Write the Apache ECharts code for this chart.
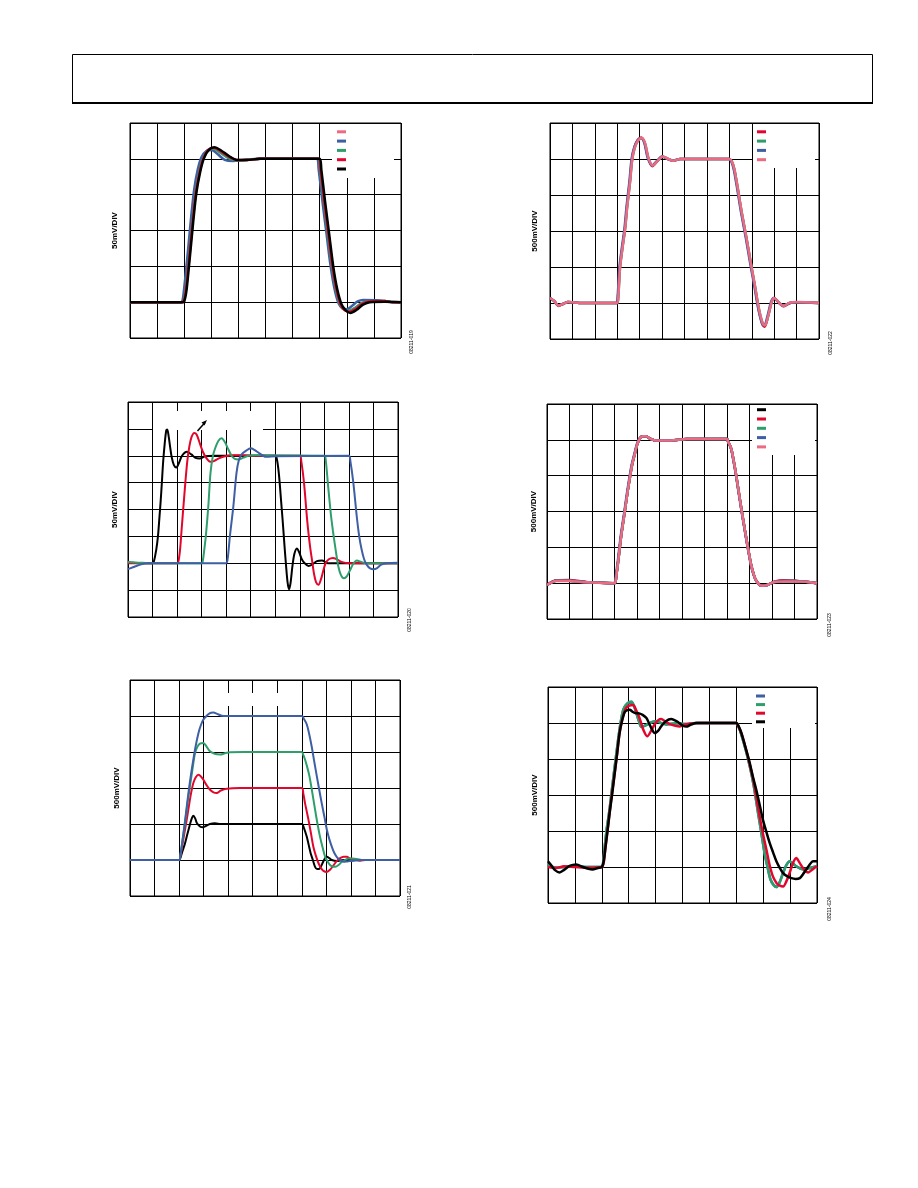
<!DOCTYPE html>
<html><head><meta charset="utf-8">
<script src="https://cdn.jsdelivr.net/npm/echarts@6/dist/echarts.min.js"></script>
<style>html,body{margin:0;padding:0;background:#fff}#c{width:918px;height:1188px}</style>
</head><body><div id="c"></div>
<script>
// ---------- colours ----------
const C = {pink:'#EC6A82', blue:'#3E5FA3', green:'#2E9E6B', red:'#E2062C', black:'#000000'};

// ---------- Plot 1 (08211-019), 50mV/DIV, 10 x-div ----------
const p1Pink  = [[0,0],[1.9,0],[1.96,0.03],[2.04,0.35],[2.11,0.85],[2.2,1.55],[2.3,2.35],[2.41,3.1],[2.54,3.65],[2.68,4.02],[2.86,4.24],[3.07,4.3],[3.3,4.2],[3.6,4.04],[3.9,3.96],[4.3,3.97],[4.8,4.0],[6.94,4.0],[7.0,3.72],[7.14,2.82],[7.29,1.92],[7.44,1.02],[7.59,0.36],[7.74,-0.05],[7.9,-0.21],[8.07,-0.25],[8.3,-0.17],[8.55,-0.03],[8.8,0.03],[9.4,0.03],[9.7,0.0],[10,0]];
const p1Blue  = [[0,0],[1.88,0],[1.94,0.05],[2.0,0.4],[2.07,0.9],[2.16,1.6],[2.26,2.4],[2.37,3.15],[2.5,3.7],[2.64,4.05],[2.82,4.22],[3.02,4.25],[3.25,4.12],[3.5,3.97],[3.8,3.94],[4.2,3.97],[4.8,4.0],[6.9,4.0],[6.96,3.72],[7.1,2.82],[7.25,1.92],[7.4,1.02],[7.55,0.36],[7.7,-0.04],[7.85,-0.18],[8.0,-0.2],[8.2,-0.1],[8.4,0.02],[8.6,0.06],[9.2,0.05],[9.5,0.01],[10,0]];
const p1Green = [[0,0],[1.9,0],[1.97,0.03],[2.05,0.33],[2.12,0.82],[2.21,1.52],[2.31,2.32],[2.42,3.07],[2.55,3.62],[2.69,4.0],[2.87,4.23],[3.09,4.28],[3.32,4.18],[3.62,4.03],[3.92,3.96],[4.3,3.97],[4.8,4.0],[6.95,4.0],[7.01,3.71],[7.15,2.81],[7.3,1.91],[7.45,1.01],[7.6,0.35],[7.75,-0.06],[7.9,-0.2],[8.08,-0.24],[8.3,-0.16],[8.55,-0.03],[8.8,0.02],[9.4,0.03],[9.7,0.0],[10,0]];
const p1Red   = [[0,0],[1.91,0],[1.98,0.02],[2.06,0.31],[2.13,0.8],[2.22,1.5],[2.32,2.3],[2.43,3.05],[2.56,3.6],[2.7,4.0],[2.88,4.24],[3.1,4.31],[3.33,4.22],[3.63,4.07],[3.93,3.97],[4.3,3.97],[4.8,4.0],[6.97,4.0],[7.03,3.7],[7.17,2.8],[7.32,1.9],[7.47,1.0],[7.62,0.35],[7.77,-0.06],[7.92,-0.22],[8.1,-0.27],[8.32,-0.19],[8.57,-0.05],[8.82,0.02],[9.4,0.03],[9.7,0.0],[10,0]];
const p1Black = [[0,0],[1.92,0],[2.0,0.02],[2.08,0.3],[2.15,0.8],[2.24,1.5],[2.34,2.3],[2.45,3.05],[2.58,3.6],[2.72,4.0],[2.9,4.24],[3.12,4.32],[3.35,4.24],[3.65,4.08],[3.95,3.97],[4.3,3.97],[4.8,4.0],[7.0,4.0],[7.06,3.7],[7.2,2.8],[7.35,1.9],[7.5,1.0],[7.65,0.35],[7.8,-0.05],[7.95,-0.22],[8.13,-0.3],[8.35,-0.22],[8.6,-0.07],[8.85,0.0],[9.4,0.01],[10,0]];

// ---------- Plot 2 (08211-022), 500mV/DIV, 12 x-div ----------
const p2Red   = [[0,0.14],[0.2,0.05],[0.37,-0.08],[0.6,-0.02],[0.8,0.03],[1.0,0.02],[1.3,0],[2.98,0],[3.04,0.22],[3.11,0.95],[3.22,1.51],[3.34,2.06],[3.44,2.71],[3.56,3.36],[3.66,4.0],[3.78,4.35],[3.93,4.54],[4.07,4.6],[4.22,4.45],[4.37,4.04],[4.56,3.8],[4.77,3.93],[5.01,4.07],[5.26,4.0],[5.5,3.95],[5.8,4.0],[8.0,4.0],[8.17,3.82],[8.32,3.36],[8.54,2.53],[8.76,1.79],[8.94,1.14],[9.13,0.49],[9.31,-0.18],[9.48,-0.6],[9.58,-0.66],[9.73,-0.36],[9.88,0.02],[10.0,0.14],[10.19,0.03],[10.41,-0.09],[10.7,0.0],[11.0,0.02],[12,0]];
const p2Green = [[0,0.13],[0.2,0.04],[0.37,-0.07],[0.6,-0.02],[0.8,0.03],[1.0,0.02],[1.3,0],[2.99,0],[3.05,0.21],[3.12,0.95],[3.23,1.51],[3.35,2.06],[3.45,2.71],[3.57,3.36],[3.67,4.0],[3.79,4.33],[3.94,4.52],[4.09,4.57],[4.24,4.43],[4.39,4.03],[4.58,3.82],[4.79,3.94],[5.03,4.06],[5.28,4.0],[5.5,3.96],[5.8,4.0],[8.0,4.0],[8.18,3.82],[8.33,3.36],[8.55,2.53],[8.77,1.79],[8.95,1.14],[9.14,0.49],[9.32,-0.16],[9.49,-0.57],[9.59,-0.62],[9.74,-0.34],[9.89,0.03],[10.0,0.13],[10.19,0.03],[10.41,-0.08],[10.7,0.0],[11.0,0.02],[12,0]];
const p2Blue  = [[0,0.14],[0.2,0.05],[0.37,-0.07],[0.6,-0.02],[0.8,0.03],[1.0,0.02],[1.3,0],[2.96,0],[3.02,0.21],[3.09,0.95],[3.2,1.51],[3.32,2.06],[3.42,2.71],[3.54,3.36],[3.64,4.0],[3.76,4.33],[3.91,4.52],[4.06,4.58],[4.21,4.44],[4.36,4.03],[4.55,3.82],[4.76,3.94],[5.0,4.07],[5.25,4.0],[5.5,3.95],[5.8,4.0],[7.98,4.0],[8.15,3.82],[8.3,3.36],[8.52,2.53],[8.74,1.79],[8.92,1.14],[9.11,0.49],[9.29,-0.16],[9.46,-0.57],[9.56,-0.62],[9.71,-0.34],[9.86,0.03],[9.98,0.14],[10.17,0.03],[10.39,-0.08],[10.7,0.0],[11.0,0.02],[12,0]];
const p2Pink  = [[0,0.14],[0.2,0.05],[0.37,-0.07],[0.6,-0.02],[0.8,0.03],[1.0,0.02],[1.3,0],[3.0,0],[3.05,0.21],[3.12,0.95],[3.23,1.51],[3.35,2.06],[3.45,2.71],[3.57,3.36],[3.67,4.0],[3.79,4.33],[3.94,4.52],[4.09,4.58],[4.24,4.44],[4.39,4.03],[4.58,3.82],[4.79,3.94],[5.03,4.07],[5.28,4.0],[5.5,3.95],[5.8,4.0],[8.0,4.0],[8.18,3.82],[8.33,3.36],[8.55,2.53],[8.77,1.79],[8.95,1.14],[9.14,0.49],[9.32,-0.16],[9.49,-0.57],[9.59,-0.62],[9.74,-0.34],[9.89,0.03],[10.0,0.14],[10.19,0.03],[10.41,-0.08],[10.7,0.01],[11.0,0.03],[12,0]];

// ---------- Plot 3 (08211-020), 50mV/DIV, 11 x-div ----------
const p3Black = [[0,0.03],[0.5,0.0],[1.0,0.0],[1.05,0.05],[1.15,0.5],[1.22,1.0],[1.28,1.7],[1.33,2.3],[1.38,3.0],[1.43,3.75],[1.5,4.5],[1.56,4.95],[1.6,4.98],[1.66,4.7],[1.72,4.3],[1.78,3.95],[1.87,3.65],[1.97,3.56],[2.07,3.72],[2.2,4.0],[2.4,4.15],[2.58,4.05],[2.75,3.92],[2.92,3.9],[3.15,3.98],[3.5,4.0],[6.0,4.0],[6.07,3.85],[6.15,3.3],[6.23,2.4],[6.3,1.6],[6.38,0.6],[6.44,-0.1],[6.5,-0.7],[6.56,-0.97],[6.62,-0.75],[6.7,-0.1],[6.78,0.35],[6.88,0.55],[6.97,0.42],[7.08,0.15],[7.2,0.0],[7.35,-0.1],[7.5,-0.05],[7.7,0.08],[7.9,0.1],[8.15,0.0],[8.6,0.0],[11,0]];
const p3Red   = [[0,0],[2.0,0],[2.05,0.05],[2.12,0.5],[2.18,1.2],[2.29,2.48],[2.41,3.75],[2.5,4.35],[2.59,4.7],[2.7,4.85],[2.8,4.78],[2.93,4.45],[3.05,4.15],[3.2,3.9],[3.35,3.78],[3.5,3.8],[3.7,3.9],[3.95,3.98],[4.3,4.02],[4.7,4.02],[5.2,4.0],[7.0,4.0],[7.06,3.8],[7.17,3.0],[7.31,1.5],[7.42,0.6],[7.5,0.1],[7.58,-0.4],[7.66,-0.7],[7.76,-0.8],[7.86,-0.6],[7.95,-0.3],[8.05,0.0],[8.18,0.15],[8.35,0.2],[8.5,0.15],[8.7,0.05],[9.0,0.0],[11,0]];
const p3Green = [[0,0.05],[0.5,0.02],[1.0,0.0],[3.0,0],[3.05,0.1],[3.12,0.6],[3.17,1.0],[3.27,2.1],[3.36,3.35],[3.45,3.95],[3.54,4.25],[3.68,4.55],[3.81,4.65],[3.95,4.5],[4.08,4.25],[4.22,4.0],[4.35,3.88],[4.5,3.86],[4.7,3.93],[4.9,4.0],[5.2,4.02],[8.0,4.0],[8.06,3.8],[8.14,3.0],[8.26,1.86],[8.35,1.2],[8.44,0.62],[8.57,-0.12],[8.68,-0.45],[8.8,-0.56],[8.92,-0.48],[9.05,-0.25],[9.18,-0.02],[9.32,0.1],[9.5,0.05],[9.7,0.0],[11,0]];
const p3Blue  = [[0,-0.22],[0.2,-0.15],[0.5,-0.05],[0.8,0.0],[4.0,0],[4.05,0.1],[4.1,0.5],[4.15,1.0],[4.29,2.1],[4.42,3.35],[4.52,3.85],[4.63,4.05],[4.8,4.18],[5.0,4.28],[5.15,4.22],[5.31,4.12],[5.5,4.0],[5.65,3.96],[6.0,3.98],[9.0,4.0],[9.06,3.8],[9.18,3.0],[9.32,1.74],[9.42,1.0],[9.52,0.5],[9.62,0.15],[9.73,-0.06],[9.85,-0.18],[10.0,-0.22],[10.15,-0.18],[10.3,-0.06],[10.54,0.0],[11,0.02]];

// ---------- Plot 4 (08211-023), 500mV/DIV, 12 x-div ----------
const p4Black = [[0,-0.05],[0.2,0.02],[0.4,0.07],[1.0,0.07],[1.5,0.04],[2.0,0.02],[3.0,0],[3.05,0.05],[3.1,0.3],[3.16,0.6],[3.3,1.34],[3.45,1.98],[3.57,2.5],[3.67,2.9],[3.78,3.3],[3.9,3.6],[4.0,3.85],[4.12,4.03],[4.25,4.1],[4.4,4.1],[4.6,4.03],[4.85,3.98],[5.5,3.98],[6.2,4.02],[8.0,4.02],[8.05,3.95],[8.19,3.75],[8.3,3.4],[8.41,3.0],[8.52,2.55],[8.64,2.07],[8.75,1.65],[8.86,1.24],[8.97,0.85],[9.08,0.49],[9.2,0.22],[9.3,0.07],[9.45,-0.05],[9.6,-0.07],[9.75,-0.06],[9.9,-0.02],[10.1,0.03],[10.5,0.06],[11.0,0.06],[11.5,0.04],[12,0.0]];
const p4Red   = [[0,-0.04],[0.2,0.03],[0.4,0.08],[1.0,0.09],[1.5,0.05],[2.0,0.02],[3.0,0],[3.05,0.05],[3.1,0.3],[3.16,0.59],[3.3,1.33],[3.45,1.97],[3.57,2.5],[3.67,2.9],[3.78,3.3],[3.9,3.6],[4.0,3.85],[4.12,4.03],[4.25,4.1],[4.4,4.1],[4.6,4.03],[4.85,3.98],[5.5,3.98],[6.2,4.02],[8.0,4.02],[8.05,3.95],[8.19,3.75],[8.3,3.4],[8.41,3.0],[8.52,2.55],[8.64,2.07],[8.75,1.65],[8.86,1.24],[8.97,0.85],[9.08,0.49],[9.2,0.22],[9.3,0.07],[9.45,-0.05],[9.6,-0.07],[9.75,-0.06],[9.9,-0.02],[10.1,0.04],[10.5,0.08],[11.0,0.07],[11.5,0.04],[12,0.0]];
const p4Green = [[0,-0.05],[0.2,0.02],[0.4,0.07],[1.0,0.07],[1.5,0.04],[2.0,0.02],[3.0,0],[3.05,0.05],[3.1,0.3],[3.16,0.59],[3.3,1.33],[3.45,1.97],[3.57,2.5],[3.67,2.9],[3.78,3.3],[3.9,3.6],[4.0,3.85],[4.12,4.03],[4.25,4.1],[4.4,4.1],[4.6,4.03],[4.85,3.98],[5.5,3.98],[6.2,4.02],[8.0,4.03],[8.05,3.96],[8.19,3.75],[8.3,3.4],[8.41,3.0],[8.52,2.55],[8.64,2.07],[8.75,1.65],[8.86,1.24],[8.97,0.85],[9.08,0.49],[9.2,0.22],[9.3,0.07],[9.45,-0.05],[9.6,-0.07],[9.75,-0.06],[9.9,-0.02],[10.1,0.03],[10.5,0.06],[11.0,0.06],[11.5,0.04],[12,0.0]];
const p4Blue  = [[0,-0.05],[0.2,0.02],[0.4,0.07],[1.0,0.07],[1.5,0.04],[2.0,0.02],[2.98,0],[3.03,0.05],[3.08,0.3],[3.14,0.59],[3.28,1.33],[3.43,1.97],[3.55,2.5],[3.65,2.9],[3.76,3.3],[3.88,3.6],[3.98,3.85],[4.1,4.03],[4.23,4.1],[4.38,4.1],[4.58,4.03],[4.83,3.98],[5.5,3.98],[6.2,4.02],[8.0,4.02],[8.04,3.95],[8.18,3.75],[8.29,3.4],[8.4,3.0],[8.51,2.55],[8.63,2.07],[8.74,1.65],[8.85,1.24],[8.96,0.85],[9.07,0.49],[9.19,0.22],[9.29,0.07],[9.44,-0.05],[9.6,-0.07],[9.75,-0.06],[9.9,-0.02],[10.1,0.03],[10.5,0.06],[11.0,0.06],[11.5,0.04],[12,0.0]];
const p4Pink  = [[0,-0.05],[0.2,0.02],[0.4,0.06],[1.0,0.06],[1.5,0.03],[2.0,0.02],[3.0,0],[3.05,0.05],[3.1,0.3],[3.16,0.59],[3.3,1.33],[3.45,1.97],[3.57,2.5],[3.67,2.9],[3.78,3.3],[3.9,3.6],[4.0,3.85],[4.12,4.03],[4.25,4.1],[4.4,4.1],[4.6,4.03],[4.85,3.98],[5.5,3.98],[6.2,4.02],[8.0,4.02],[8.05,3.95],[8.19,3.75],[8.3,3.4],[8.41,3.0],[8.52,2.55],[8.64,2.07],[8.75,1.65],[8.86,1.24],[8.97,0.85],[9.08,0.49],[9.2,0.22],[9.3,0.07],[9.45,-0.05],[9.6,-0.07],[9.75,-0.06],[9.9,-0.02],[10.1,0.03],[10.5,0.05],[11.0,0.05],[11.5,0.04],[12,0.0]];

// ---------- Plot 5 (08211-021), 500mV/DIV, 11 x-div ----------
const p5Black = [[0,0],[2.0,0],[2.05,0.05],[2.14,0.25],[2.24,0.46],[2.33,0.7],[2.42,0.93],[2.5,1.12],[2.58,1.23],[2.66,1.15],[2.72,1.03],[2.79,0.97],[2.88,0.92],[2.96,0.91],[3.1,0.95],[3.26,1.0],[3.46,1.02],[3.7,1.0],[7.0,1.0],[7.08,0.9],[7.2,0.65],[7.28,0.42],[7.36,0.19],[7.45,0.0],[7.54,-0.19],[7.62,-0.25],[7.7,-0.25],[7.78,-0.18],[7.87,-0.05],[7.95,0.05],[8.02,0.09],[8.12,0.05],[8.22,0.0],[8.42,-0.03],[8.7,0.0],[11,0]];
const p5Red   = [[0,0],[2.0,0],[2.05,0.1],[2.14,0.45],[2.24,0.84],[2.33,1.2],[2.42,1.59],[2.5,1.9],[2.58,2.14],[2.68,2.3],[2.79,2.37],[2.89,2.32],[2.99,2.23],[3.12,2.08],[3.26,1.95],[3.4,1.88],[3.53,1.86],[3.7,1.93],[3.94,1.98],[4.48,2.0],[7.0,2.0],[7.06,1.85],[7.13,1.58],[7.2,1.35],[7.27,1.12],[7.37,0.75],[7.47,0.37],[7.58,0.1],[7.68,-0.09],[7.78,-0.22],[7.88,-0.3],[8.02,-0.33],[8.15,-0.27],[8.29,-0.15],[8.42,-0.03],[8.56,0.05],[8.7,0.09],[8.83,0.09],[8.97,0.04],[9.1,0.02],[9.38,-0.02],[9.6,0.0],[11,0]];
const p5Green = [[0,0],[2.0,0],[2.05,0.12],[2.14,0.55],[2.24,1.02],[2.33,1.5],[2.42,1.95],[2.53,2.45],[2.65,2.97],[2.75,3.15],[2.85,3.23],[2.99,3.25],[3.12,3.15],[3.26,3.02],[3.45,2.95],[3.67,2.93],[3.9,2.97],[4.08,2.99],[4.62,3.0],[7.0,3.0],[7.06,2.92],[7.13,2.79],[7.22,2.58],[7.31,2.33],[7.42,1.9],[7.54,1.4],[7.64,1.0],[7.74,0.65],[7.85,0.34],[7.95,0.09],[8.05,-0.04],[8.15,-0.14],[8.25,-0.18],[8.36,-0.19],[8.5,-0.14],[8.63,-0.05],[8.76,0.0],[8.9,0.04],[9.05,0.04],[9.24,0.03],[9.5,0.0],[11,0]];
const p5Blue  = [[0,0],[2.0,0],[2.05,0.12],[2.17,0.7],[2.28,1.3],[2.38,1.86],[2.48,2.35],[2.58,2.79],[2.68,3.18],[2.79,3.53],[2.89,3.75],[2.99,3.9],[3.09,3.98],[3.19,4.05],[3.3,4.09],[3.4,4.1],[3.55,4.06],[3.74,4.01],[4.21,4.0],[7.0,4.0],[7.1,3.9],[7.2,3.77],[7.3,3.5],[7.4,3.16],[7.5,2.76],[7.61,2.33],[7.71,1.95],[7.81,1.58],[7.92,1.2],[8.02,0.84],[8.12,0.58],[8.22,0.37],[8.32,0.2],[8.42,0.09],[8.55,0.0],[8.7,-0.05],[8.85,-0.04],[9.1,-0.02],[9.4,0.0],[11,0]];

// ---------- Plot 6 (08211-024), 500mV/DIV, 10 x-div ----------
const p6Blue  = [[0,0.06],[0.3,-0.02],[0.6,0.0],[1.0,0.02],[1.5,0.0],[2.0,0.0],[2.05,0.12],[2.11,0.57],[2.19,1.1],[2.27,1.5],[2.36,2.05],[2.45,2.61],[2.55,3.2],[2.64,3.72],[2.72,4.1],[2.81,4.38],[2.95,4.53],[3.1,4.57],[3.2,4.46],[3.28,4.28],[3.38,4.05],[3.47,3.9],[3.6,3.93],[3.72,3.97],[3.88,4.03],[4.03,4.05],[4.2,4.0],[4.4,3.96],[4.6,3.98],[4.77,3.99],[5.14,3.97],[5.5,4.0],[7.0,4.0],[7.08,3.9],[7.19,3.67],[7.35,3.25],[7.5,2.8],[7.65,2.25],[7.81,1.5],[7.93,0.95],[8.05,0.39],[8.16,0.0],[8.27,-0.34],[8.38,-0.49],[8.49,-0.55],[8.6,-0.44],[8.74,-0.16],[8.86,0.05],[8.98,0.15],[9.1,0.1],[9.23,0.02],[9.48,-0.06],[9.73,-0.03],[10,0.02]];
const p6Green = [[0,0.05],[0.3,-0.02],[0.6,0.0],[1.0,0.02],[1.5,0.0],[2.0,0.0],[2.05,0.12],[2.11,0.57],[2.19,1.1],[2.27,1.5],[2.36,2.05],[2.45,2.61],[2.55,3.2],[2.64,3.72],[2.72,4.1],[2.81,4.4],[2.95,4.55],[3.1,4.6],[3.2,4.48],[3.28,4.3],[3.38,4.05],[3.47,3.89],[3.6,3.92],[3.72,3.97],[3.88,4.03],[4.03,4.05],[4.2,4.0],[4.4,3.96],[4.6,3.98],[4.77,3.99],[5.14,3.97],[5.5,4.0],[7.0,4.0],[7.08,3.9],[7.19,3.67],[7.35,3.25],[7.5,2.8],[7.65,2.25],[7.81,1.5],[7.93,0.95],[8.05,0.39],[8.16,0.0],[8.27,-0.35],[8.38,-0.5],[8.49,-0.56],[8.6,-0.45],[8.74,-0.17],[8.86,0.05],[8.98,0.16],[9.1,0.1],[9.23,0.02],[9.48,-0.07],[9.73,-0.03],[10,0.02]];
const p6Red   = [[0,0.0],[0.3,-0.03],[0.6,0.02],[1.0,0.0],[1.5,-0.02],[2.0,0.0],[2.07,0.12],[2.14,0.57],[2.22,1.05],[2.29,1.5],[2.38,2.05],[2.48,2.61],[2.57,3.15],[2.66,3.72],[2.76,4.1],[2.89,4.4],[3.02,4.48],[3.16,4.5],[3.28,4.35],[3.41,4.12],[3.55,3.8],[3.69,3.63],[3.83,3.78],[3.97,3.97],[4.1,4.08],[4.21,4.11],[4.35,4.05],[4.52,3.97],[4.7,3.93],[4.89,3.9],[5.05,3.95],[5.27,3.98],[5.6,4.0],[7.0,4.0],[7.08,3.9],[7.19,3.72],[7.35,3.3],[7.5,2.85],[7.65,2.35],[7.81,1.65],[7.97,1.0],[8.12,0.48],[8.24,0.05],[8.36,-0.26],[8.5,-0.45],[8.62,-0.52],[8.74,-0.54],[8.86,-0.4],[8.98,-0.17],[9.1,0.1],[9.23,0.25],[9.35,0.12],[9.48,-0.03],[9.58,-0.12],[9.67,-0.15],[9.78,-0.1],[9.9,-0.03],[10,0.02]];
const p6Black = [[0,0.16],[0.12,0.05],[0.25,-0.08],[0.43,-0.15],[0.6,-0.08],[0.8,0.03],[1.05,0.07],[1.3,0.0],[1.5,-0.05],[1.65,-0.07],[1.85,-0.03],[2.0,0.0],[2.07,0.15],[2.14,0.57],[2.22,1.05],[2.29,1.5],[2.39,2.05],[2.48,2.61],[2.57,3.15],[2.66,3.72],[2.75,4.05],[2.85,4.3],[2.95,4.36],[3.04,4.37],[3.13,4.32],[3.22,4.28],[3.32,4.27],[3.41,4.26],[3.53,4.22],[3.66,4.14],[3.75,4.0],[3.84,3.86],[3.97,3.72],[4.09,3.78],[4.21,3.91],[4.38,4.05],[4.58,4.11],[4.7,4.08],[4.83,4.03],[5.0,3.93],[5.14,3.9],[5.3,3.95],[5.51,4.0],[7.0,4.0],[7.08,3.92],[7.19,3.72],[7.35,3.3],[7.5,2.89],[7.62,2.5],[7.74,2.15],[7.87,1.72],[7.99,1.31],[8.12,0.97],[8.24,0.67],[8.37,0.4],[8.49,0.16],[8.62,-0.03],[8.74,-0.17],[8.9,-0.26],[9.05,-0.31],[9.2,-0.33],[9.36,-0.31],[9.48,-0.2],[9.6,-0.07],[9.73,0.07],[9.85,0.16],[10,0.16]];

// ---------- labels ----------
const yLabels = ['50mV/DIV','500mV/DIV','50mV/DIV','500mV/DIV','500mV/DIV','500mV/DIV'];
const figIds  = ['08211-019','08211-022','08211-020','08211-023','08211-021','08211-024'];

// ---------- layout ----------
const plots = [
  {grid:[130,123,271,215], xDiv:10, yMin:-1, yMax:5, gap:11, lw:2.5, id:[411.5,342],
   series:[['Fig19 A',p1Pink,C.pink],['Fig19 B',p1Blue,C.blue],['Fig19 C',p1Green,C.green],['Fig19 D',p1Red,C.red],['Fig19 E',p1Black,C.black]],
   legend:[337,130.3,6.3], white:[[332,124,62,54]]},
  {grid:[550,123,269,216], xDiv:12, yMin:-1, yMax:5, gap:11, lw:2.5, id:[830.5,343],
   series:[['Fig22 A',p2Red,C.red],['Fig22 B',p2Green,C.green],['Fig22 C',p2Blue,C.blue],['Fig22 D',p2Pink,C.pink]],
   legend:[757,130.3,6.3], white:[[753,124,62,44]]},
  {grid:[128,402,270,215], xDiv:11, yMin:-2, yMax:6, gap:9, lw:2, id:[409.5,620],
   series:[['Fig20 A',p3Black,C.black],['Fig20 B',p3Red,C.red],['Fig20 C',p3Green,C.green],['Fig20 D',p3Blue,C.blue]],
   legend:null, white:[[153,411,110,19]], arrow:true},
  {grid:[547,404,270,215], xDiv:12, yMin:-1, yMax:5, gap:9, lw:2.5, id:[829.5,625],
   series:[['Fig23 A',p4Black,C.black],['Fig23 B',p4Red,C.red],['Fig23 C',p4Green,C.green],['Fig23 D',p4Blue,C.blue],['Fig23 E',p4Pink,C.pink]],
   legend:[757,408.2,6.3], white:[[752,405,63,50]]},
  {grid:[130,680,270,216], xDiv:11, yMin:-1, yMax:5, gap:9, lw:2, id:[409.5,897],
   series:[['Fig21 A',p5Black,C.black],['Fig21 B',p5Red,C.red],['Fig21 C',p5Green,C.green],['Fig21 D',p5Blue,C.blue]],
   legend:null, white:[[215,693,75,13]]},
  {grid:[548,687,269,216], xDiv:10, yMin:-1, yMax:5, gap:9, lw:2.5, id:[829.5,909],
   series:[['Fig24 A',p6Blue,C.blue],['Fig24 B',p6Green,C.green],['Fig24 C',p6Red,C.red],['Fig24 D',p6Black,C.black]],
   legend:[756,694.5,5.6], white:[[752,688,63,40]]}
];

const option = {animation:false, backgroundColor:'#fff', grid:[], xAxis:[], yAxis:[], series:[], legend:[], graphic:[]};
plots.forEach((p,i)=>{
  option.grid.push({left:p.grid[0], top:p.grid[1], width:p.grid[2], height:p.grid[3], show:true, borderColor:'#000', borderWidth:1, containLabel:false});
  option.xAxis.push({gridIndex:i, type:'value', min:0, max:p.xDiv, interval:1,
    axisLine:{show:false}, axisTick:{show:false}, axisLabel:{show:false},
    splitLine:{show:true, lineStyle:{color:'#000', width:1}}});
  option.yAxis.push({gridIndex:i, type:'value', min:p.yMin, max:p.yMax, interval:1,
    axisLine:{show:false}, axisTick:{show:false}, axisLabel:{show:false},
    splitLine:{show:true, lineStyle:{color:'#000', width:1}},
    name:yLabels[i], nameLocation:'middle', nameRotate:90, nameGap:p.gap,
    nameTextStyle:{fontSize:8, fontWeight:'bold', fontFamily:'Liberation Sans, Arial', color:'#000'}});
  p.series.forEach(s=>{
    option.series.push({name:s[0], type:'line', xAxisIndex:i, yAxisIndex:i, data:s[1],
      showSymbol:false, symbol:'none', smooth:0.3, clip:true,
      lineStyle:{color:s[2], width:p.lw}, itemStyle:{color:s[2]}, z:3});
  });
  p.white.forEach(w=>{
    option.graphic.push({type:'rect', shape:{x:w[0], y:w[1], width:w[2], height:w[3]}, style:{fill:'#fff'}, z:1, silent:true});
  });
  if (p.legend) {
    option.legend.push({data:p.series.map(s=>s[0]), orient:'vertical', left:p.legend[0], top:p.legend[1],
      itemWidth:9, itemHeight:3, itemGap:p.legend[2], icon:'rect', padding:0, selectedMode:false,
      formatter:()=>'', textStyle:{fontSize:3, lineHeight:3}, z:10});
  }
  option.graphic.push({type:'text', x:p.id[0], y:p.id[1], rotation:Math.PI/2,
    style:{text:figIds[i], fontSize:5, fontFamily:'Liberation Sans, Arial', fill:'#000', align:'center', verticalAlign:'middle'}, z:5});
});
// header box
option.graphic.push({type:'rect', shape:{x:72.5, y:54.5, width:800, height:48}, style:{fill:'none', stroke:'#000', lineWidth:1}, z:5});
option.graphic.push({type:'line', shape:{x1:72, y1:103, x2:873, y2:103}, style:{stroke:'#000', lineWidth:2}, z:5});
// annotation arrow in plot 3
option.graphic.push({type:'line', shape:{x1:197.5, y1:431, x2:205, y2:422.5}, style:{stroke:'#000', lineWidth:1.5}, z:6});
option.graphic.push({type:'polygon', shape:{points:[[207,420],[201.5,422.5],[204.5,425.5]]}, style:{fill:'#000'}, z:6});

const chart = echarts.init(document.getElementById('c'), null, {renderer:'canvas'});
chart.setOption(option);
</script>
</body></html>
